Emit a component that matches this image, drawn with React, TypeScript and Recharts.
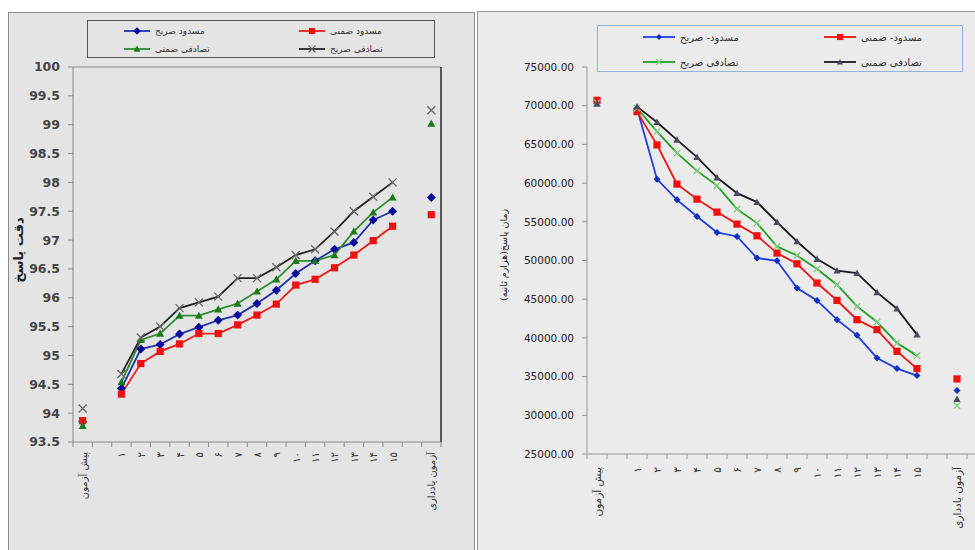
import { LineChart, Line, XAxis, YAxis, Legend, ReferenceLine } from "recharts";

// x categories: pre-test, gap, sessions 1..15, gap, retention
const sessionLabels = [
  "پیش آزمون", "",
  "۱", "۲", "۳", "۴", "۵", "۶", "۷", "۸", "۹", "۱۰", "۱۱", "۱۲", "۱۳", "۱۴", "۱۵",
  "", "آزمون یادداری",
];

// accuracy (left chart)
const accBlockedExplicit = [94.43, 95.11, 95.19, 95.37, 95.49, 95.61, 95.7, 95.9, 96.13, 96.42, 96.64, 96.84, 96.96, 97.35, 97.5];
const accBlockedImplicit = [94.33, 94.86, 95.07, 95.2, 95.38, 95.38, 95.53, 95.7, 95.89, 96.22, 96.32, 96.52, 96.74, 96.99, 97.24];
const accRandomImplicit = [94.54, 95.27, 95.38, 95.69, 95.69, 95.8, 95.9, 96.11, 96.32, 96.64, 96.64, 96.74, 97.15, 97.48, 97.74];
const accRandomExplicit = [94.68, 95.31, 95.5, 95.82, 95.92, 96.02, 96.34, 96.34, 96.53, 96.74, 96.84, 97.15, 97.5, 97.75, 98.0];
const accPre = [93.85, 93.87, 93.78, 94.08]; // blue, red, green, black
const accPost = [97.74, 97.44, 99.02, 99.25];
const accTicks = [93.5, 94, 94.5, 95, 95.5, 96, 96.5, 97, 97.5, 98, 98.5, 99, 99.5, 100];

// response time (right chart)
const rtBlockedExplicit = [69667, 60510, 57839, 55684, 53619, 53103, 50316, 49968, 46445, 44845, 42355, 40329, 37413, 36032, 35129];
const rtBlockedImplicit = [69232, 64935, 59865, 57929, 56252, 54703, 53194, 50961, 49581, 47090, 44845, 42355, 41065, 38265, 36032];
const rtRandomExplicit = [69667, 66652, 63865, 61581, 59684, 56639, 54832, 51813, 50652, 48897, 46871, 44071, 42058, 39348, 37710];
const rtRandomImplicit = [69877, 67865, 65581, 63348, 60716, 58703, 57542, 54961, 52458, 50187, 48677, 48381, 45877, 43774, 40419];
const rtPre = [70500, 70700, 70400, 70250]; // blue, red, green, black
const rtPost = [33200, 34700, 31250, 32100];
const rtTicks = [25000, 30000, 35000, 40000, 45000, 50000, 55000, 60000, 65000, 70000, 75000];

const FONT = "'DejaVu Sans', sans-serif";

type Shape = "diamond" | "square" | "triangle" | "cross";
type Series = {
  key: string; name: string; line: string; mark: string; shape: Shape; size: number;
  sessions: number[]; pre: number; post: number;
};

const accSeries: Series[] = [
  { key: "be", name: "مسدود صریح", line: "#2233a8", mark: "#0b0b9a", shape: "diamond", size: 4.5, sessions: accBlockedExplicit, pre: accPre[0], post: accPost[0] },
  { key: "bi", name: "مسدود ضمنی", line: "#ee1c1c", mark: "#ee1111", shape: "square", size: 3.6, sessions: accBlockedImplicit, pre: accPre[1], post: accPost[1] },
  { key: "ri", name: "تصادفی ضمنی", line: "#2e8b2e", mark: "#1c7a1c", shape: "triangle", size: 4, sessions: accRandomImplicit, pre: accPre[2], post: accPost[2] },
  { key: "re", name: "تصادفی صریح", line: "#222222", mark: "#666666", shape: "cross", size: 4, sessions: accRandomExplicit, pre: accPre[3], post: accPost[3] },
];

const rtSeries: Series[] = [
  { key: "be", name: "مسدود- صریح", line: "#1f3fe0", mark: "#1030c0", shape: "diamond", size: 3.5, sessions: rtBlockedExplicit, pre: rtPre[0], post: rtPost[0] },
  { key: "bi", name: "مسدود- ضمنی", line: "#f01010", mark: "#f01010", shape: "square", size: 3.6, sessions: rtBlockedImplicit, pre: rtPre[1], post: rtPost[1] },
  { key: "re", name: "تصادفی صریح", line: "#22a022", mark: "#7ccd7c", shape: "cross", size: 3.2, sessions: rtRandomExplicit, pre: rtPre[2], post: rtPost[2] },
  { key: "ri", name: "تصادفی ضمنی", line: "#1a1a1a", mark: "#4a4a5e", shape: "triangle", size: 3.6, sessions: rtRandomImplicit, pre: rtPre[3], post: rtPost[3] },
];

function buildRows(series: Series[]) {
  return sessionLabels.map((label, i) => {
    const row: any = { x: i + 0.5, label };
    series.forEach((s) => {
      let v: number | null = null;
      if (i === 0) v = s.pre;
      else if (i >= 2 && i <= 16) v = s.sessions[i - 2];
      else if (i === 18) v = s.post;
      row[s.key] = v;
    });
    return row;
  });
}

function Marker({ cx, cy, shape, color, size }: any) {
  if (cx == null || cy == null || isNaN(cy)) return null;
  const s = size;
  if (shape === "diamond")
    return <path d={`M${cx},${cy - s} L${cx + s},${cy} L${cx},${cy + s} L${cx - s},${cy} Z`} fill={color} />;
  if (shape === "square") return <rect x={cx - s} y={cy - s} width={2 * s} height={2 * s} fill={color} />;
  if (shape === "triangle")
    return <path d={`M${cx},${cy - s} L${cx + s},${cy + s * 0.8} L${cx - s},${cy + s * 0.8} Z`} fill={color} />;
  return (
    <path d={`M${cx - s},${cy - s} L${cx + s},${cy + s} M${cx + s},${cy - s} L${cx - s},${cy + s}`} stroke={color} strokeWidth={1.3} fill="none" />
  );
}

function XTick({ x, y, payload, fontSize, gap, color }: any) {
  const v = payload.value;
  if (Number.isInteger(v)) return <line x1={x} x2={x} y1={y} y2={y + 5} stroke={color} />;
  const text = sessionLabels[Math.floor(v)];
  if (!text) return null;
  return (
    <text transform={`translate(${x + fontSize * 0.4},${y + gap}) rotate(-90)`} textAnchor="end"
      fontSize={fontSize} fill="#333" fontFamily={FONT}>
      {text}
    </text>
  );
}

function LegendBox({ series, box, cols, rows, lineW, fontSize, border }: any) {
  return (
    <div style={{ position: "relative", width: box.w, height: box.h, border: `1px solid ${border}`, boxSizing: "border-box" }}>
      {series.map((s: Series, i: number) => (
        <div key={s.key} style={{ position: "absolute", left: cols[i % 2], top: rows[Math.floor(i / 2)] - 6, height: 12, display: "flex", alignItems: "center", whiteSpace: "nowrap" }}>
          <svg width={lineW} height={12} style={{ display: "block" }}>
            <line x1={0} x2={lineW} y1={6} y2={6} stroke={s.line} strokeWidth={1.8} />
            <Marker cx={lineW / 2} cy={6} shape={s.shape} color={s.mark} size={s.size * 0.85} />
          </svg>
          <span style={{ marginLeft: 5, fontSize, color: "#333", fontFamily: FONT }}>{s.name}</span>
        </div>
      ))}
    </div>
  );
}

function SeriesLines(series: Series[], width: number) {
  return series.map((s) => (
    <Line key={s.key} dataKey={s.key} name={s.name} stroke={s.line} strokeWidth={width} isAnimationActive={false}
      connectNulls={false}
      dot={(p: any) => (
        <Marker key={`${s.key}-${p.index}`} cx={p.cx} cy={p.payload?.[s.key] == null ? null : p.cy}
          shape={s.shape} color={s.mark} size={s.size} />
      )}
      activeDot={false} />
  ));
}

const halfTicks = (n: number) => Array.from({ length: 2 * n + 1 }, (_, i) => i / 2);

export default function App() {
  const accRows = buildRows(accSeries);
  const rtRows = buildRows(rtSeries);
  return (
    <div style={{ position: "absolute", left: 0, top: 0, width: 975, height: 550, overflow: "hidden", background: "#fff", fontFamily: FONT }}>
      {/* left panel: accuracy */}
      <div style={{ position: "absolute", left: 8, top: 12, width: 467, height: 545, border: "1px solid #8c8c8c", background: "#e4e4e4", boxSizing: "border-box" }}>
        <LineChart width={464} height={536} data={accRows} margin={{ top: 54, right: 32, bottom: 0, left: 0 }}>
          <XAxis type="number" dataKey="x" domain={[0, 19]} ticks={halfTicks(19)} interval={0}
            tickSize={0} tickMargin={0} tickLine={false} height={107}
            axisLine={{ stroke: "#888" }}
            tick={(p: any) => <XTick {...p} fontSize={10} gap={10} color="#888" />} />
          <YAxis type="number" domain={[93.5, 100]} ticks={accTicks} interval={0} width={64}
            tickSize={5} tickMargin={8} axisLine={{ stroke: "#888" }} tickLine={{ stroke: "#888" }}
            tick={{ fontSize: 12.5, fontWeight: 700, fill: "#444", fontFamily: FONT }} />
          <ReferenceLine y={100} stroke="#8a8a8a" />
          <ReferenceLine x={19} stroke="#555" strokeWidth={2} />
          {SeriesLines(accSeries, 1.8)}
          <Legend layout="horizontal" verticalAlign="middle" align="center"
            wrapperStyle={{ left: 78, top: 7, width: 348, height: 38 }}
            content={() => (
              <LegendBox series={accSeries} box={{ w: 348, h: 38 }} cols={[36, 211]} rows={[10, 28]}
                lineW={26} fontSize={9} border="#555" />
            )} />
        </LineChart>
        <div style={{ position: "absolute", left: 9, top: 237, transform: "translate(-50%,-50%) rotate(-90deg)", fontSize: 13, fontWeight: 700, color: "#222", whiteSpace: "nowrap" }}>
          دقت پاسخ
        </div>
      </div>

      {/* right panel: response time */}
      <div style={{ position: "absolute", left: 477, top: 11, width: 520, height: 545, border: "1px solid #9a9a9a", background: "#ebebeb", boxSizing: "border-box" }}>
        <LineChart width={497} height={537} data={rtRows} margin={{ top: 55, right: 0, bottom: 0, left: 0 }}>
          <XAxis type="number" dataKey="x" domain={[0, 19.4]} ticks={halfTicks(19)} interval={0}
            tickSize={0} tickMargin={0} tickLine={false} height={95}
            axisLine={{ stroke: "#999" }}
            tick={(p: any) => <XTick {...p} fontSize={10.5} gap={13} color="#999" />} />
          <YAxis type="number" domain={[25000, 75000]} ticks={rtTicks} interval={0} width={109}
            tickSize={5} tickMargin={8} axisLine={{ stroke: "#999" }} tickLine={{ stroke: "#999" }}
            tickFormatter={(v: number) => v.toFixed(2)}
            tick={{ fontSize: 10.5, fill: "#222", fontFamily: FONT }} />
          {SeriesLines(rtSeries, 1.8)}
          <Legend layout="horizontal" verticalAlign="middle" align="center"
            wrapperStyle={{ left: 119, top: 13, width: 366, height: 47 }}
            content={() => (
              <LegendBox series={rtSeries} box={{ w: 366, h: 47 }} cols={[45, 226]} rows={[11, 36]}
                lineW={32} fontSize={10} border="#95b3d7" />
            )} />
        </LineChart>
        <div style={{ position: "absolute", left: 25, top: 243, transform: "translate(-50%,-50%) rotate(-90deg)", fontSize: 9.5, color: "#222", whiteSpace: "nowrap" }}>
          زمان پاسخ(هزارم ثانیه)
        </div>
      </div>
    </div>
  );
}
